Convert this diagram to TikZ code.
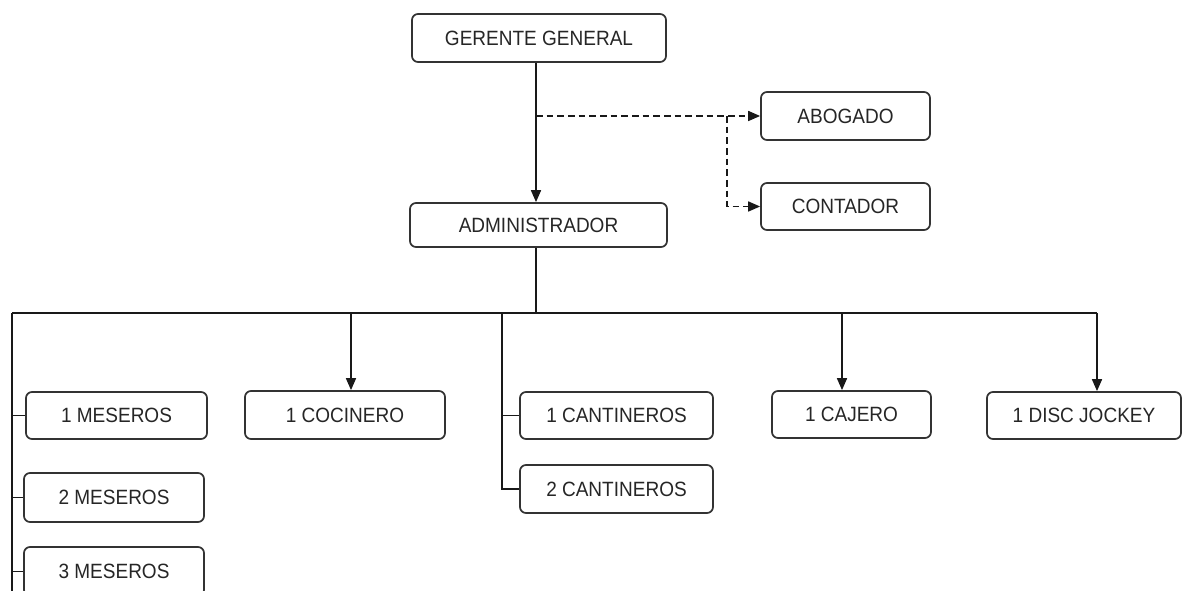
\documentclass[tikz,border=0pt]{standalone}
\usepackage{fontspec}
\setmainfont{Liberation Sans}[FakeStretch=0.92]
\usetikzlibrary{arrows.meta}
\newdimen\px \px=0.75pt
\definecolor{boxline}{HTML}{333333}
\definecolor{txt}{HTML}{262626}
\begin{document}
\begin{tikzpicture}[x=0.75pt,y=-0.75pt,
  box/.style={draw=boxline, line width=1.3pt, rounded corners=4.5pt, fill=white,
    text=txt, font=\fontsize{15.5}{17}\selectfont, inner sep=0pt},
  conn/.style={line width=1.25pt, draw=black!90},
  arr/.style={conn, -{Triangle[length=9pt,width=7.5pt]}},
  dashconn/.style={conn, dash pattern=on 5pt off 3pt},
  dasharr/.style={dashconn, -{Triangle[length=9pt,width=7.5pt]}}]
\useasboundingbox (0,0) rectangle (1182,591);
\clip (0,0) rectangle (1182,591);

% nodes
\node[box, minimum width={254*\px}, minimum height={48*\px}] (gg) at (539,38) {GERENTE GENERAL};
\node[box, minimum width={257*\px}, minimum height={44*\px}] (adm) at (538.5,225) {ADMINISTRADOR};
\node[box, minimum width={169*\px}, minimum height={48*\px}] (abog) at (845.5,116) {ABOGADO};
\node[box, minimum width={169*\px}, minimum height={47*\px}] (cont) at (845.5,206.5) {CONTADOR};
\node[box, minimum width={181*\px}, minimum height={47*\px}] (mes1) at (116.5,415.5) {1 MESEROS};
\node[box, minimum width={180*\px}, minimum height={49*\px}] (mes2) at (114,497.5) {2 MESEROS};
\node[box, minimum width={180*\px}, minimum height={49*\px}] (mes3) at (114,571.5) {3 MESEROS};
\node[box, minimum width={200*\px}, minimum height={48*\px}] (coc) at (345,415) {1 COCINERO};
\node[box, minimum width={193*\px}, minimum height={47*\px}] (can1) at (616.5,415.5) {1 CANTINEROS};
\node[box, minimum width={193*\px}, minimum height={48*\px}] (can2) at (616.5,489) {2 CANTINEROS};
\node[box, minimum width={159*\px}, minimum height={47*\px}] (caj) at (851.5,414.5) {1 CAJERO};
\node[box, minimum width={194*\px}, minimum height={47*\px}] (dj) at (1084,415.5) {1 DISC JOCKEY};

% helper coordinates
\coordinate (vx) at (536,0);
\coordinate (busy) at (0,313);
\coordinate (lt) at (12,313);
\coordinate (lb) at (12,591);
\coordinate (ct) at (502,313);
\coordinate (tc) at (351,313);
\coordinate (tj) at (842,313);
\coordinate (tdj) at (1097,313);
\coordinate (d1) at (727,116);

% top connectors
\draw[arr] (gg.south -| vx) -- (vx |- adm.north);
\draw[dasharr] (vx |- abog.west) -- (abog.west);
\draw[dasharr] (d1) |- (cont.west);

% bus
\draw[conn] (adm.south -| vx) -- (vx |- busy);
\draw[conn] (lt) -- (tdj);
\draw[conn] (lt) -- (lb);

% meseros
\draw[conn] (lt |- mes1.west) -- (mes1.west);
\draw[conn] (lt |- mes2.west) -- (mes2.west);
\draw[conn] (lt |- mes3.west) -- (mes3.west);

% cantineros
\draw[conn] (ct) |- (can2.west);
\draw[conn] (ct |- can1.west) -- (can1.west);

% arrows down
\draw[arr] (tc) -- (tc |- coc.north);
\draw[arr] (tj) -- (tj |- caj.north);
\draw[arr] (tdj) -- (tdj |- dj.north);
\end{tikzpicture}
\end{document}
